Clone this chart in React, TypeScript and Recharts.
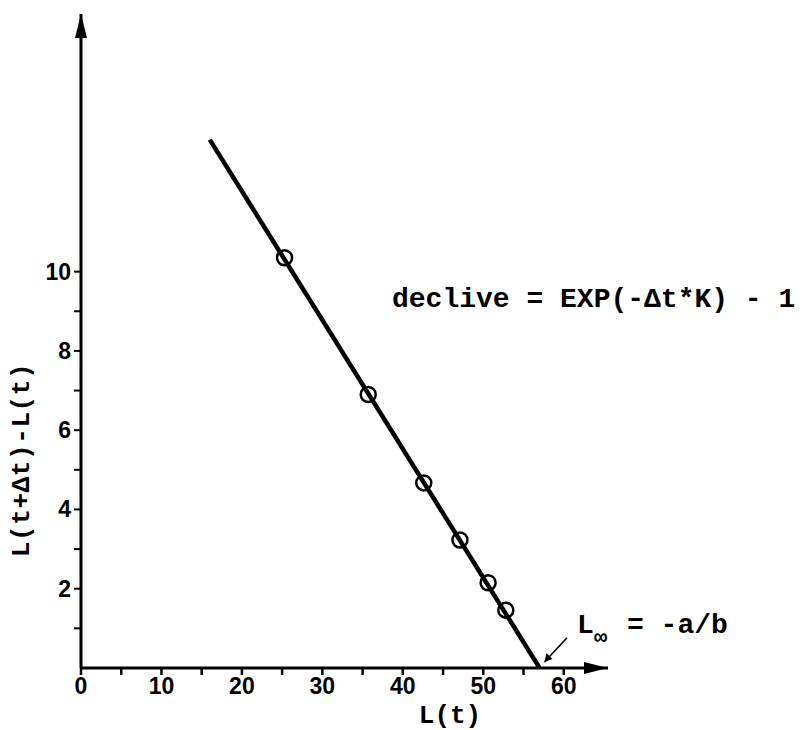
import React from 'react';
import { ComposedChart, Scatter, XAxis, YAxis, ReferenceLine, ReferenceDot, Customized } from 'recharts';

// ---- data ----
const xTicks = [0, 5, 10, 15, 20, 25, 30, 35, 40, 45, 50, 55, 60];
const yTicks = [1, 2, 3, 4, 5, 6, 7, 8, 9, 10];
const lengthL = [25.3, 35.7, 42.6, 47.1, 50.6, 52.8];
const increment = [10.35, 6.9, 4.67, 3.23, 2.15, 1.46];
const fitL = [16.0, 57.0];
const fitInc = [13.33, 0];
const xMax = 65.5;
const yMax = 16.5;
const pointerTail = { x: 60.4, y: 0.76 };
const pointerTip = { x: 57.6, y: 0.15 };

const points = lengthL.map((x, i) => ({ x, y: increment[i] }));

const MONO = '"Liberation Mono", "Courier New", monospace';
const SANS = '"Liberation Sans", Arial, sans-serif';

const tickStyle = { fontFamily: SANS, fontWeight: 700, fontSize: 23, fill: '#000' } as const;

const XTick = (props: any) => {
  const { x, y, payload } = props;
  if (payload.value % 10 !== 0) return null;
  return (
    <text x={x} y={y + 17} textAnchor="middle" style={tickStyle}>
      {payload.value}
    </text>
  );
};

const YTick = (props: any) => {
  const { x, y, payload } = props;
  if (payload.value % 2 !== 0) return null;
  return (
    <text x={x - 1} y={y + 8} textAnchor="end" style={tickStyle}>
      {payload.value}
    </text>
  );
};

const Circle = (props: any) => {
  const { cx, cy } = props;
  return <circle cx={cx} cy={cy} r={7.5} fill="none" stroke="#000" strokeWidth={2.5} />;
};

const ArrowRight = (props: any) => {
  const { cx, cy } = props;
  return <polygon points={`${cx},${cy} ${cx - 24},${cy - 6} ${cx - 24},${cy + 6}`} fill="#000" />;
};

const ArrowUp = (props: any) => {
  const { cx, cy } = props;
  return <polygon points={`${cx},${cy} ${cx - 6},${cy + 24} ${cx + 6},${cy + 24}`} fill="#000" />;
};

const PointerHead = (props: any) => {
  const { cx, cy } = props;
  return <polygon points={`${cx},${cy} ${cx + 2},${cy - 9} ${cx + 8},${cy - 3}`} fill="#000" />;
};

const mono = (size: number, spacing = 0) => ({
  fontFamily: MONO,
  fontWeight: 700,
  fontSize: size,
  letterSpacing: spacing,
  fill: '#000',
});

const Annotations = () => (
  <g>
    <text x={384} y={299} style={mono(28)}>
      declive = EXP(-Δt*K) - 1
    </text>
    <text x={569} y={625} style={mono(28)}>L</text>
    <text x={586} y={636} style={mono(22)}>∞</text>
    <text x={619} y={625} style={mono(28)}>= -a/b</text>
    <text x={442} y={715} textAnchor="middle" style={mono(26)}>L(t)</text>
    <text
      x={14}
      y={452}
      textAnchor="middle"
      dominantBaseline="central"
      transform="rotate(-90 14 452)"
      style={mono(26, 0.6)}
    >
      L(t+Δt)-L(t)
    </text>
  </g>
);

export default function App() {
  return (
    <div style={{ width: 799, height: 722, background: '#fff' }}>
      <ComposedChart
        width={799}
        height={722}
        margin={{ top: 6, right: 199, bottom: 22, left: 13 }}
        style={{ overflow: 'visible' }}
      >
        <XAxis
          type="number"
          dataKey="x"
          domain={[0, xMax]}
          ticks={xTicks}
          interval={0}
          allowDataOverflow
          height={40}
          axisLine={{ stroke: '#000', strokeWidth: 3 }}
          tickLine={{ stroke: '#000', strokeWidth: 2.5 }}
          tickSize={7}
          tick={<XTick />}
        />
        <YAxis
          type="number"
          dataKey="y"
          domain={[0, yMax]}
          ticks={yTicks}
          interval={0}
          allowDataOverflow
          width={60}
          axisLine={{ stroke: '#000', strokeWidth: 3 }}
          tickLine={{ stroke: '#000', strokeWidth: 2 }}
          tickSize={7}
          tick={<YTick />}
        />
        <ReferenceLine
          segment={[{ x: fitL[0], y: fitInc[0] }, { x: fitL[1], y: fitInc[1] }]}
          stroke="#000"
          strokeWidth={4.5}
        />
        <Scatter data={points} shape={<Circle />} isAnimationActive={false} />
        <ReferenceLine segment={[pointerTail, pointerTip]} stroke="#000" strokeWidth={1.5} />
        <ReferenceDot x={pointerTip.x} y={pointerTip.y} shape={<PointerHead />} ifOverflow="visible" />
        <ReferenceDot x={xMax} y={0} shape={<ArrowRight />} ifOverflow="visible" />
        <ReferenceDot x={0} y={yMax} shape={<ArrowUp />} ifOverflow="visible" />
        <Customized component={Annotations} />
      </ComposedChart>
    </div>
  );
}
